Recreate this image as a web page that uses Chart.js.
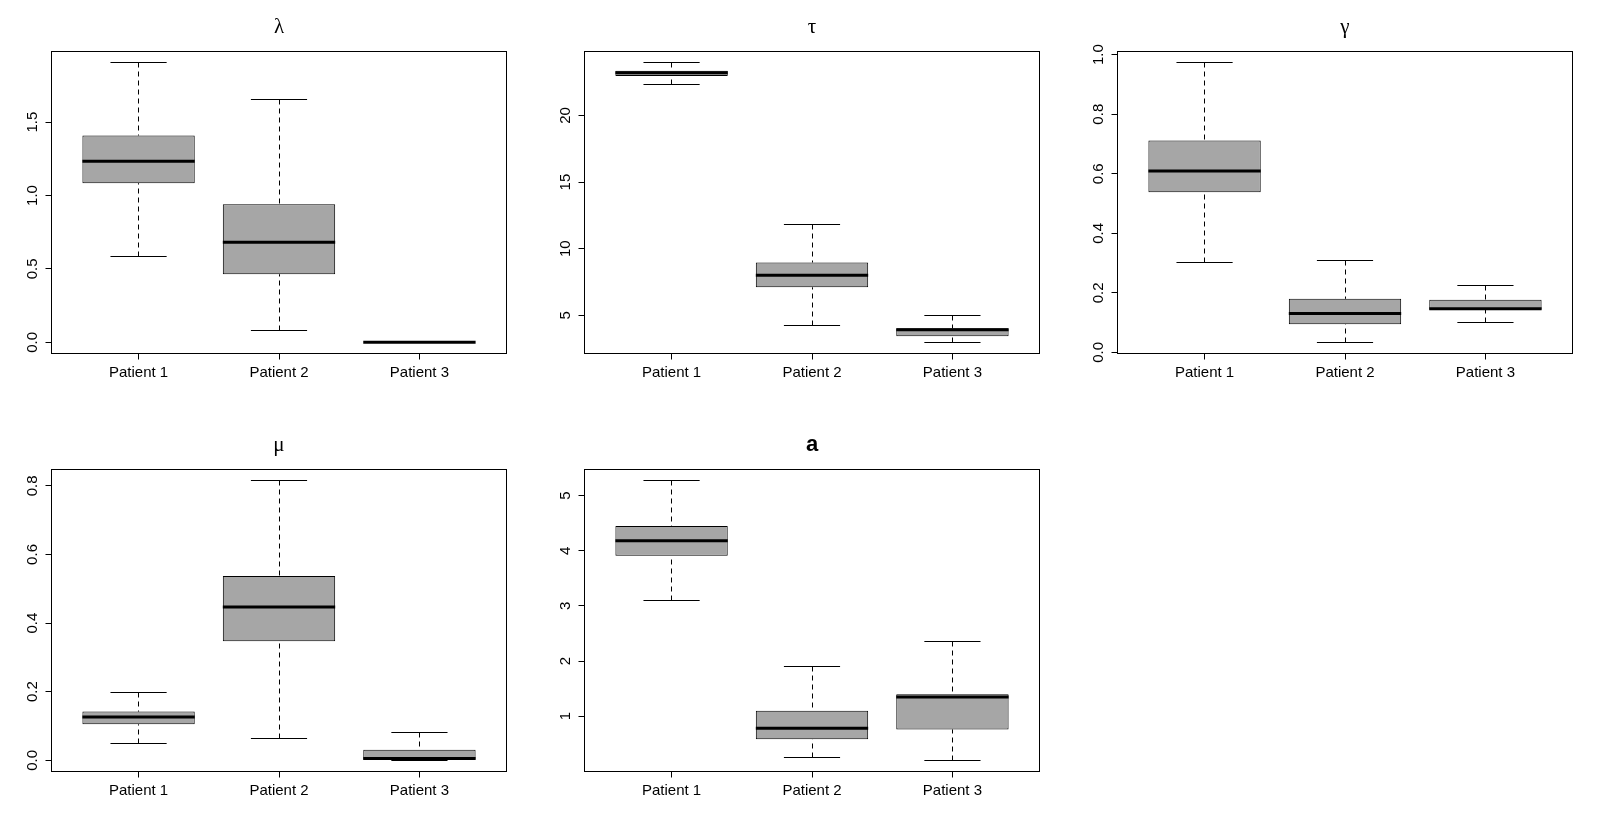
<!DOCTYPE html>
<html>
<head>
<meta charset="utf-8">
<title>Posterior boxplots</title>
<script src="https://cdn.jsdelivr.net/npm/chart.js@4.4.1/dist/chart.umd.min.js"></script>
<style>
  html, body { margin: 0; padding: 0; background: #fff; }
  #wrap { position: relative; width: 1599px; height: 836px; overflow: hidden; }
  .panel { position: absolute; width: 533px; height: 418px; }
</style>
</head>
<body>
<div id="wrap">
  <div class="panel" style="left:0;top:0"><canvas id="c-lambda" width="533" height="418"></canvas></div>
  <div class="panel" style="left:533px;top:0"><canvas id="c-tau" width="533" height="418"></canvas></div>
  <div class="panel" style="left:1066px;top:0"><canvas id="c-gamma" width="533" height="418"></canvas></div>
  <div class="panel" style="left:0;top:418px"><canvas id="c-mu" width="533" height="418"></canvas></div>
  <div class="panel" style="left:533px;top:418px"><canvas id="c-a" width="533" height="418"></canvas></div>
</div>
<script>
// --- data: five-number summaries per patient ------------------------------- //
const patients = ["Patient 1", "Patient 2", "Patient 3"];
const patientPos = [1, 2, 3];

// lambda
const lambdaLo  = [0.584, 0.082, 0.000];
const lambdaQ1  = [1.084, 0.464, 0.000];
const lambdaMed = [1.234, 0.682, 0.000];
const lambdaQ3  = [1.409, 0.941, 0.000];
const lambdaHi  = [1.905, 1.652, 0.000];
const lambdaTicks = [0, 0.5, 1, 1.5];
const lambdaTickLabels = ["0.0", "0.5", "1.0", "1.5"];

// tau
const tauLo  = [22.36, 4.25, 2.97];
const tauQ1  = [22.96, 7.10, 3.42];
const tauMed = [23.20, 8.00, 3.92];
const tauQ3  = [23.36, 8.96, 4.02];
const tauHi  = [23.96, 11.84, 4.95];
const tauTicks = [5, 10, 15, 20];
const tauTickLabels = ["5", "10", "15", "20"];

// gamma
const gammaLo  = [0.303, 0.034, 0.099];
const gammaQ1  = [0.538, 0.095, 0.143];
const gammaMed = [0.609, 0.131, 0.147];
const gammaQ3  = [0.712, 0.180, 0.177];
const gammaHi  = [0.973, 0.309, 0.225];
const gammaTicks = [0, 0.2, 0.4, 0.6, 0.8, 1.0];
const gammaTickLabels = ["0.0", "0.2", "0.4", "0.6", "0.8", "1.0"];

// mu
const muLo  = [0.050, 0.064, 0.000];
const muQ1  = [0.105, 0.347, 0.000];
const muMed = [0.126, 0.447, 0.005];
const muQ3  = [0.142, 0.537, 0.031];
const muHi  = [0.199, 0.815, 0.082];
const muTicks = [0, 0.2, 0.4, 0.6, 0.8];
const muTickLabels = ["0.0", "0.2", "0.4", "0.6", "0.8"];

// a
const aLo  = [3.09, 0.25, 0.20];
const aQ1  = [3.91, 0.58, 0.76];
const aMed = [4.18, 0.78, 1.35];
const aQ3  = [4.45, 1.10, 1.40];
const aHi  = [5.27, 1.91, 2.35];
const aTicks = [1, 2, 3, 4, 5];
const aTickLabels = ["1", "2", "3", "4", "5"];

const panels = [
  { id: "c-lambda", title: "\u03BB", greek: true, lo: lambdaLo, q1: lambdaQ1, med: lambdaMed, q3: lambdaQ3, hi: lambdaHi, ticks: lambdaTicks, tickLabels: lambdaTickLabels },
  { id: "c-tau",    title: "\u03C4", greek: true, lo: tauLo, q1: tauQ1, med: tauMed, q3: tauQ3, hi: tauHi, ticks: tauTicks, tickLabels: tauTickLabels },
  { id: "c-gamma",  title: "\u03B3", greek: true, lo: gammaLo, q1: gammaQ1, med: gammaMed, q3: gammaQ3, hi: gammaHi, ticks: gammaTicks, tickLabels: gammaTickLabels },
  { id: "c-mu",     title: "\u03BC", greek: true, lo: muLo, q1: muQ1, med: muMed, q3: muQ3, hi: muHi, ticks: muTicks, tickLabels: muTickLabels },
  { id: "c-a",      title: "a", greek: false, lo: aLo, q1: aQ1, med: aMed, q3: aQ3, hi: aHi, ticks: aTicks, tickLabels: aTickLabels },
];

// --- look -------------------------------------------------------------------- //
const BOX_FILL = "#A6A6A6";
const INK = "#000000";
const LABEL_FONT = '15px "Liberation Sans", Arial, sans-serif';
const GREEK_FONT = '21px "Liberation Serif", "DejaVu Serif", serif';
const TITLE_FONT = 'bold 22px "Liberation Sans", Arial, sans-serif';

function crisp(v) { return Math.round(v - 0.5) + 0.5; }

function seg(ctx, x1, y1, x2, y2) {
  ctx.beginPath();
  ctx.moveTo(x1, y1);
  ctx.lineTo(x2, y2);
  ctx.stroke();
}

// R-style whiskers / medians / frame / labels, all placed through the chart scales
const rBoxplot = {
  id: "rBoxplot",
  beforeDatasetsDraw(chart, args, o) {
    const { ctx, scales: { x, y } } = chart;
    ctx.save();
    ctx.strokeStyle = INK;
    ctx.lineWidth = 1;
    patientPos.forEach(function (p, i) {
      const px = crisp(x.getPixelForValue(p));
      const yHi = crisp(y.getPixelForValue(o.hi[i]));
      const yLo = crisp(y.getPixelForValue(o.lo[i]));
      ctx.setLineDash([5, 4]);
      seg(ctx, px, yHi, px, y.getPixelForValue(o.q3[i]));
      seg(ctx, px, yLo, px, y.getPixelForValue(o.q1[i]));
      ctx.setLineDash([]);
      const c0 = x.getPixelForValue(p - 0.2), c1 = x.getPixelForValue(p + 0.2);
      seg(ctx, c0, yHi, c1, yHi);
      seg(ctx, c0, yLo, c1, yLo);
    });
    ctx.restore();
  },
  afterDatasetsDraw(chart, args, o) {
    const { ctx, chartArea: a, scales: { x, y } } = chart;
    ctx.save();
    ctx.strokeStyle = INK;
    ctx.fillStyle = INK;

    // medians (thick)
    ctx.lineWidth = 3;
    ctx.lineCap = "butt";
    patientPos.forEach(function (p, i) {
      const ym = y.getPixelForValue(o.med[i]);
      seg(ctx, x.getPixelForValue(p - 0.4), ym, x.getPixelForValue(p + 0.4), ym);
    });

    // plot frame
    ctx.lineWidth = 1;
    ctx.strokeRect(a.left, a.top, a.right - a.left, a.bottom - a.top);

    // y tick labels, parallel to the axis
    ctx.font = LABEL_FONT;
    ctx.textAlign = "center";
    ctx.textBaseline = "alphabetic";
    o.ticks.forEach(function (v, i) {
      ctx.save();
      ctx.translate(a.left - 15, y.getPixelForValue(v));
      ctx.rotate(-Math.PI / 2);
      ctx.fillText(o.tickLabels[i], 0, 0);
      ctx.restore();
    });

    // x category labels
    patientPos.forEach(function (p, i) {
      ctx.fillText(patients[i], x.getPixelForValue(p), a.bottom + 23);
    });

    // panel title
    ctx.font = o.greek ? GREEK_FONT : TITLE_FONT;
    ctx.fillText(o.title, (a.left + a.right) / 2, a.top - 19);
    ctx.restore();
  },
};

function makePanel(pn) {
  const lo = Math.min.apply(null, pn.lo);
  const hi = Math.max.apply(null, pn.hi);
  const pad = (hi - lo) * 0.04;   // R's default axis extension
  const canvas = document.getElementById(pn.id);

  new Chart(canvas.getContext("2d"), {
    type: "bar",
    data: {
      datasets: [{
        data: patientPos.map(function (p, i) { return { x: p, y: [pn.q1[i], pn.q3[i]] }; }),
        backgroundColor: BOX_FILL,
        borderColor: INK,
        borderWidth: 1,
        borderSkipped: false,
        categoryPercentage: 1,
        barPercentage: 0.8,
      }],
    },
    options: {
      responsive: false,
      devicePixelRatio: 1,
      animation: false,
      events: [],
      layout: { padding: { top: 51.5, right: 26.5, bottom: 0, left: 0 } },
      plugins: {
        legend: { display: false },
        title: { display: false },
        tooltip: { enabled: false },
        rBoxplot: {
          lo: pn.lo, q1: pn.q1, med: pn.med, q3: pn.q3, hi: pn.hi,
          ticks: pn.ticks, tickLabels: pn.tickLabels, title: pn.title, greek: pn.greek,
        },
      },
      scales: {
        x: {
          type: "linear",
          min: 0.38,
          max: 3.62,
          offset: false,
          afterBuildTicks: function (s) { s.ticks = patientPos.map(function (v) { return { value: v }; }); },
          afterFit: function (s) { s.height = 64.5; },
          ticks: { display: false },
          border: { display: false },
          grid: { display: true, offset: false, drawOnChartArea: false, drawTicks: true, tickLength: 6, color: INK, lineWidth: 1 },
        },
        y: {
          type: "linear",
          min: lo - pad,
          max: hi + pad,
          afterBuildTicks: function (s) { s.ticks = pn.ticks.map(function (v) { return { value: v }; }); },
          afterFit: function (s) { s.width = 51.5; },
          ticks: { display: false },
          border: { display: false },
          grid: { display: true, drawOnChartArea: false, drawTicks: true, tickLength: 6, color: INK, lineWidth: 1 },
        },
      },
    },
    plugins: [rBoxplot],
  });
}

panels.forEach(makePanel);
</script>
</body>
</html>
